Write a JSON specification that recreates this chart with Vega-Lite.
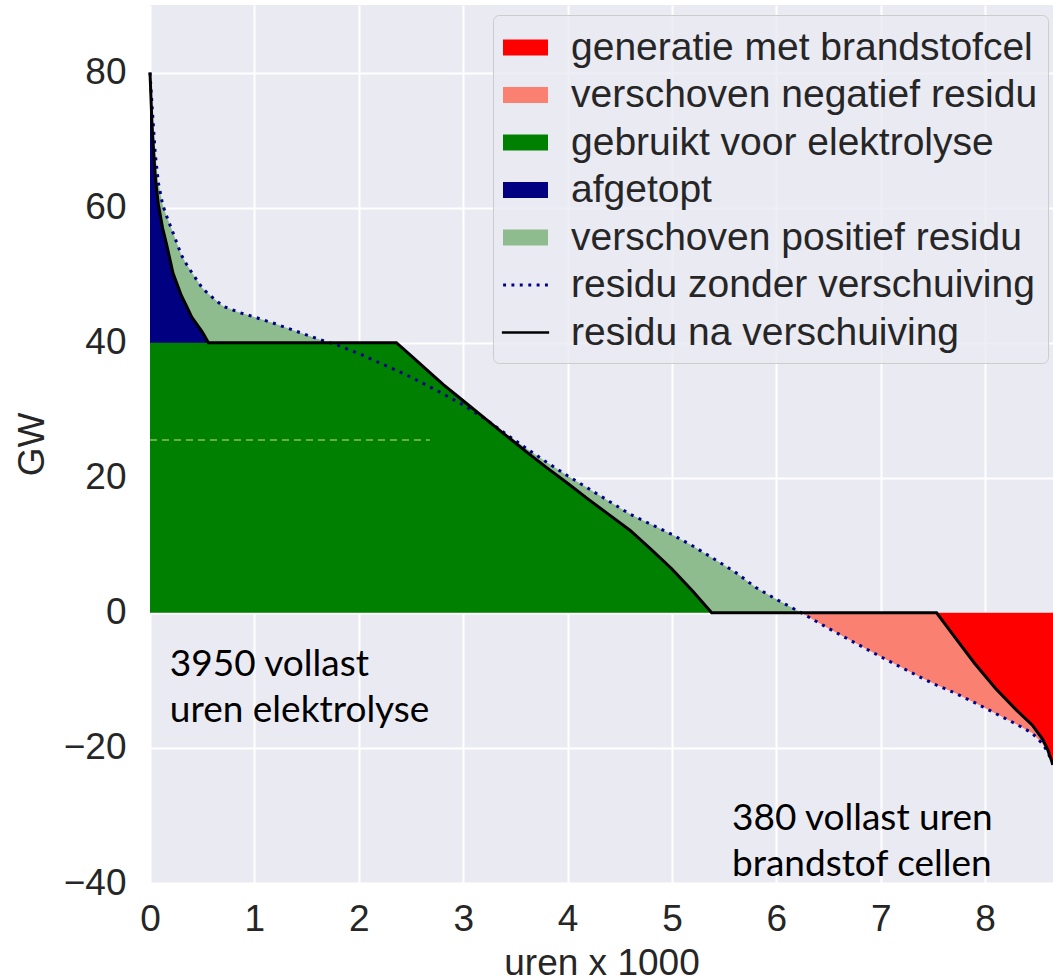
{
  "$schema": "https://vega.github.io/schema/vega-lite/v6.json",
  "width": 903,
  "height": 878,
  "autosize": "none",
  "padding": {"left": 150, "top": 5, "right": 0, "bottom": 96},
  "background": "white",
  "config": {
    "view": {"fill": "#eaeaf2", "stroke": null},
    "axis": {
      "labelFont": "Liberation Sans",
      "labelFontSize": 37,
      "labelColor": "#262626",
      "labelFlush": false,
      "titleFont": "Liberation Sans",
      "titleFontSize": 37,
      "titleFontWeight": "normal",
      "titleColor": "#262626",
      "domain": false,
      "ticks": false,
      "grid": true,
      "gridColor": "white",
      "gridWidth": 2
    }
  },
  "datasets": {
    "curves": [
      {"x": 0, "d": 80, "b": 80},
      {"x": 0.02, "d": 75, "b": 72},
      {"x": 0.05, "d": 68, "b": 64.5},
      {"x": 0.08, "d": 63.7, "b": 60.5},
      {"x": 0.12, "d": 60.5, "b": 57},
      {"x": 0.16, "d": 58.7, "b": 54.5},
      {"x": 0.22, "d": 56.3, "b": 50.3},
      {"x": 0.3, "d": 53, "b": 47},
      {"x": 0.35, "d": 51.6, "b": 45.4},
      {"x": 0.4, "d": 50.4, "b": 43.8},
      {"x": 0.5, "d": 48.1, "b": 41.6},
      {"x": 0.56, "d": 47.2, "b": 40},
      {"x": 0.7, "d": 45.4, "b": 40},
      {"x": 0.85, "d": 44.5, "b": 40},
      {"x": 1.0, "d": 43.8, "b": 40},
      {"x": 1.2, "d": 42.8, "b": 40},
      {"x": 1.4, "d": 41.7, "b": 40},
      {"x": 1.6, "d": 40.6, "b": 40},
      {"x": 1.8, "d": 39.6, "b": 40},
      {"x": 2.0, "d": 38.4, "b": 40},
      {"x": 2.2, "d": 37.0, "b": 40},
      {"x": 2.36, "d": 35.9, "b": 40},
      {"x": 2.5, "d": 34.9, "b": 38.1},
      {"x": 2.7, "d": 33.3, "b": 35.3},
      {"x": 2.81, "d": 32.4, "b": 33.8},
      {"x": 3.0, "d": 30.8, "b": 31.4},
      {"x": 3.2, "d": 28.8, "b": 28.9},
      {"x": 3.4, "d": 26.6, "b": 26.4},
      {"x": 3.6, "d": 24.4, "b": 23.9},
      {"x": 3.8, "d": 22.3, "b": 21.5},
      {"x": 4.0, "d": 20.3, "b": 19.2},
      {"x": 4.2, "d": 18.4, "b": 16.8},
      {"x": 4.4, "d": 16.5, "b": 14.5},
      {"x": 4.6, "d": 14.6, "b": 12.2},
      {"x": 4.8, "d": 13.1, "b": 9.4},
      {"x": 5.0, "d": 11.6, "b": 6.5},
      {"x": 5.2, "d": 9.9, "b": 3.2},
      {"x": 5.38, "d": 8.2, "b": 0},
      {"x": 5.6, "d": 6.1, "b": 0},
      {"x": 5.8, "d": 3.8, "b": 0},
      {"x": 6.0, "d": 2.0, "b": 0},
      {"x": 6.24, "d": 0, "b": 0},
      {"x": 6.5, "d": -2.3, "b": 0},
      {"x": 6.7, "d": -4.0, "b": 0},
      {"x": 7.0, "d": -6.5, "b": 0},
      {"x": 7.2, "d": -8.1, "b": 0},
      {"x": 7.4, "d": -9.7, "b": 0},
      {"x": 7.535, "d": -10.7, "b": 0},
      {"x": 7.7, "d": -11.8, "b": -3.4},
      {"x": 7.9, "d": -13.3, "b": -7.5},
      {"x": 8.1, "d": -14.9, "b": -11.2},
      {"x": 8.3, "d": -16.5, "b": -14.4},
      {"x": 8.45, "d": -17.8, "b": -16.6},
      {"x": 8.55, "d": -19.4, "b": -18.7},
      {"x": 8.6, "d": -20.6, "b": -20.3},
      {"x": 8.65, "d": -22.5, "b": -22.5}
    ],
    "dash": [
      {"x": 0, "y": 25.6},
      {"x": 2.68, "y": 25.6}
    ],
    "ann": [
      {"x": 0.19, "y": -9.4, "t": "3950 vollast\nuren elektrolyse"},
      {"x": 5.575, "y": -32.1, "t": "380 vollast uren\nbrandstof cellen"}
    ]
  },
  "encoding": {
    "x": {
      "field": "x",
      "type": "quantitative",
      "title": "uren x 1000",
      "scale": {"domain": [0, 8.65], "nice": false, "zero": false},
      "axis": {"values": [0, 1, 2, 3, 4, 5, 6, 7, 8], "labelPadding": 18, "titlePadding": 8}
    }
  },
  "layer": [
    {
      "data": {"name": "curves"},
      "transform": [{"filter": "datum.x <= 6.24"}],
      "mark": {"type": "area", "interpolate": "linear"},
      "encoding": {
        "y": {
          "field": "d",
          "type": "quantitative",
          "title": "GW",
          "scale": {"domain": [-40, 90], "nice": false, "zero": false},
          "axis": {"values": [-40, -20, 0, 20, 40, 60, 80], "labelPadding": 24, "titlePadding": 12}
        },
        "y2": {"field": "b"},
        "color": {
          "datum": "verschoven positief residu",
          "type": "nominal",
          "scale": {
            "domain": ["generatie met brandstofcel", "verschoven negatief residu", "gebruikt voor elektrolyse", "afgetopt", "verschoven positief residu", "residu zonder verschuiving", "residu na verschuiving"],
            "range": ["#ff0000", "#fa8072", "#008000", "#000080", "#8fbc8f", "#00008b", "#000000"]
          },
          "legend": {
            "title": null,
            "orient": "none",
            "legendX": 343,
            "legendY": 10,
            "labelFont": "Liberation Sans",
            "labelFontSize": 39,
            "labelColor": "#262626",
            "labelLimit": 700,
            "symbolSize": 2025,
            "symbolType": "M-1,-0.36H1V0.36H-1Z",
            "symbolStrokeWidth": 0,
            "labelOffset": 23,
            "rowPadding": 4.5,
            "padding": 10,
            "fillColor": "rgba(234,234,242,0.8)",
            "strokeColor": "#cccccc",
            "cornerRadius": 6,
            "encode": {
              "symbols": {
                "update": {
                  "shape": {"signal": "datum.value === 'residu zonder verschuiving' ? 'M-0.995,-0.065h0.13v0.13h-0.13ZM-0.625,-0.065h0.13v0.13h-0.13ZM-0.255,-0.065h0.13v0.13h-0.13ZM0.125,-0.065h0.13v0.13h-0.13ZM0.495,-0.065h0.13v0.13h-0.13ZM0.865,-0.065h0.13v0.13h-0.13Z' : datum.value === 'residu na verschuiving' ? 'M-1.05,-0.06H1.05V0.06H-1.05Z' : 'M-1,-0.36H1V0.36H-1Z'"},
                  "fill": {"scale": "color", "field": "value"},
                  "strokeWidth": {"value": 0},
                  "opacity": {"value": 1}
                }
              }
            }
          }
        }
      }
    },
    {
      "data": {"name": "curves"},
      "transform": [{"filter": "datum.x <= 5.38"}],
      "mark": {"type": "area", "interpolate": "linear"},
      "encoding": {
        "y": {"field": "b", "type": "quantitative", "title": "GW"},
        "y2": {"datum": 0},
        "color": {"datum": "gebruikt voor elektrolyse", "type": "nominal"}
      }
    },
    {
      "data": {"name": "curves"},
      "transform": [{"filter": "datum.x <= 0.56"}],
      "mark": {"type": "area", "interpolate": "linear"},
      "encoding": {
        "y": {"field": "b", "type": "quantitative", "title": "GW"},
        "y2": {"datum": 40},
        "color": {"datum": "afgetopt", "type": "nominal"}
      }
    },
    {
      "data": {"name": "curves"},
      "transform": [{"filter": "datum.x >= 6.24"}],
      "mark": {"type": "area", "interpolate": "linear"},
      "encoding": {
        "y": {"field": "d", "type": "quantitative", "title": "GW"},
        "y2": {"field": "b"},
        "color": {"datum": "verschoven negatief residu", "type": "nominal"}
      }
    },
    {
      "data": {"name": "curves"},
      "transform": [{"filter": "datum.x >= 7.535"}],
      "mark": {"type": "area", "interpolate": "linear"},
      "encoding": {
        "y": {"field": "b", "type": "quantitative", "title": "GW"},
        "y2": {"datum": 0},
        "color": {"datum": "generatie met brandstofcel", "type": "nominal"}
      }
    },
    {
      "data": {"name": "dash"},
      "mark": {"type": "line", "color": "#8cc152", "strokeWidth": 1.5, "strokeDash": [7, 5], "clip": false},
      "encoding": {
        "y": {"field": "y", "type": "quantitative", "title": "GW"}
      }
    },
    {
      "data": {"name": "curves"},
      "mark": {"type": "line", "strokeWidth": 3, "strokeDash": [3, 5.5], "strokeCap": "butt"},
      "encoding": {
        "y": {"field": "d", "type": "quantitative", "title": "GW"},
        "color": {"datum": "residu zonder verschuiving", "type": "nominal"}
      }
    },
    {
      "data": {"name": "curves"},
      "mark": {"type": "line", "strokeWidth": 3},
      "encoding": {
        "y": {"field": "b", "type": "quantitative", "title": "GW"},
        "color": {"datum": "residu na verschuiving", "type": "nominal"}
      }
    },
    {
      "data": {"name": "ann"},
      "mark": {"type": "text", "align": "left", "baseline": "alphabetic", "font": "Lato", "fontSize": 37, "lineBreak": "\n", "lineHeight": 46, "color": "black"},
      "encoding": {
        "y": {"field": "y", "type": "quantitative", "title": "GW"},
        "text": {"field": "t"}
      }
    }
  ]
}
